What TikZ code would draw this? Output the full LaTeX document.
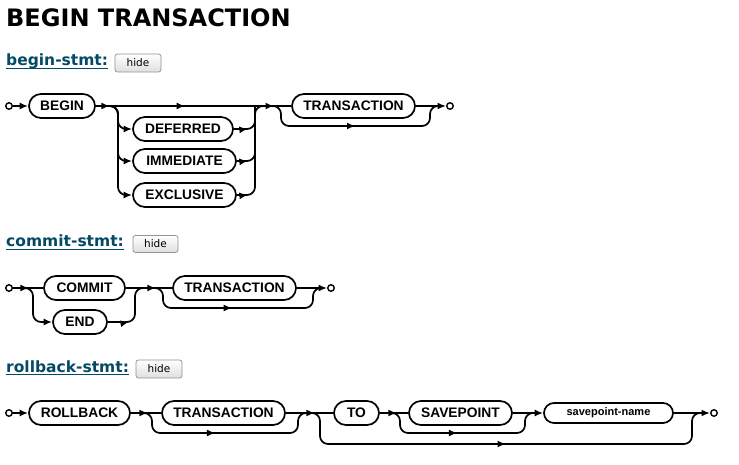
\documentclass[tikz,border=0pt]{standalone}
\usepackage{fontspec}
\newfontfamily\hdfont{DejaVu Sans}
\newfontfamily\bxfont{Liberation Sans}
\usetikzlibrary{arrows.meta,decorations.markings}
\definecolor{linkc}{HTML}{044A64}
\begin{document}
\begin{tikzpicture}[x=1pt,y=-1pt,
 ln/.style={line width=1.7pt, rounded corners=8pt},
 term/.style={draw, line width=1.7pt, rounded corners=12pt, minimum height=24pt, inner sep=0pt, font=\bxfont\bfseries\fontsize{13.8}{15}\selectfont},
 nterm/.style={draw, line width=1.7pt, rounded corners=10pt, minimum height=20pt, inner sep=0pt, font=\bxfont\bfseries\fontsize{11}{12}\selectfont},
 dot/.style={circle, draw, line width=1.4pt, inner sep=0pt, minimum size=6.5pt},
 tip/.style={-{Latex[length=8.5pt,width=7pt]}},
 am/.style={postaction=decorate, decoration={markings, mark=at position #1 with {\arrow{Latex[length=8.5pt,width=7pt]}}}},
 btn/.style={draw=gray!85, line width=0.8pt, rounded corners=2.5pt, top color=white, bottom color=gray!25, inner sep=0pt, font=\hdfont\fontsize{10.5}{12}\selectfont},
 hdr/.style={anchor=base west, inner sep=0pt, text=linkc, font=\hdfont\bfseries\fontsize{15.5}{18}\selectfont},
 ul/.style={draw=linkc, line width=1.3pt}
]
\path[fill=white] (0,0) rectangle (739,465);
\useasboundingbox (0,0) rectangle (739,465);

% title
\node[anchor=base west, inner sep=0pt, font=\hdfont\bfseries\fontsize{24}{28}\selectfont] (title) at (6,27) {BEGIN TRANSACTION};

% headers
\node[hdr] (h1) at (6,66) {begin-stmt:};
\draw[ul] ([yshift=-2.5pt]h1.base west) -- ([yshift=-2.5pt]h1.base east);
\node[btn, minimum width=46pt, minimum height=18pt] (b1) at (138,63) {hide};

\node[hdr] (h2) at (6,247) {commit-stmt:};
\draw[ul] ([yshift=-2.5pt]h2.base west) -- ([yshift=-2.5pt]h2.base east);
\node[btn, minimum width=45pt, minimum height=17pt] (b2) at (155.5,244) {hide};

\node[hdr] (h3) at (6,372) {rollback-stmt:};
\draw[ul] ([yshift=-2.5pt]h3.base west) -- ([yshift=-2.5pt]h3.base east);
\node[btn, minimum width=46pt, minimum height=18pt] (b3) at (159,369) {hide};

% ---------------- diagram 1
\node[dot] (s1) at (9,106) {};
\node[term, minimum width=66pt] (begin) at (62,106) {BEGIN};
\node[term, minimum width=100pt] (deferred) at (183,129) {DEFERRED};
\node[term, minimum width=103pt] (immediate) at (184.5,161) {IMMEDIATE};
\node[term, minimum width=103pt] (exclusive) at (184.5,195) {EXCLUSIVE};
\node[term, minimum width=123pt] (tx1) at (353.5,106) {TRANSACTION};
\node[dot] (e1) at (450,106) {};
\coordinate (j1) at (118,106);
\coordinate (j2) at (255,106);
\coordinate (j3a) at (271,106);
\coordinate (j3) at (281,106);
\coordinate (j4) at (430,106);
\coordinate (j4b) at (440,106);

\draw[ln, tip] (s1) -- (begin);
\draw[ln, am=14pt] (begin) -- (j1);
\draw[ln, am=0.49] (j1) -- (j2);
\draw[ln, tip] (begin) -- (j1) -- (j1 |- deferred) -- (deferred);
\draw[ln, tip] (begin) -- (j1) -- (j1 |- immediate) -- (immediate);
\draw[ln, tip] (begin) -- (j1) -- (j1 |- exclusive) -- (exclusive);
\draw[ln, am=14pt] (deferred) -- (j2 |- deferred) -- (j2) -- (j3);
\draw[ln, am=11pt] (immediate) -- (j2 |- immediate) -- (j2);
\draw[ln, am=11pt] (exclusive) -- (j2 |- exclusive) -- (j2);
\draw[ln, am=19pt] (j2) -- (tx1);
\draw[ln, am=0.5] (j3a) -- (j3) -- (281,126) -- (430,126) -- (j4) -- (j4b);
\draw[ln, tip] (tx1) -- (e1);

% ---------------- diagram 2
\node[dot] (s2) at (9,288) {};
\node[term, minimum width=81pt] (commit) at (84.5,288) {COMMIT};
\node[term, minimum width=54pt] (end) at (80,322) {END};
\node[term, minimum width=123pt] (tx2) at (234.5,288) {TRANSACTION};
\node[dot] (e2) at (331,288) {};
\coordinate (k1) at (33,288);
\coordinate (k2) at (135,288);
\coordinate (k3a) at (153,288);
\coordinate (k3) at (163,288);
\coordinate (k4) at (313,288);
\coordinate (k4b) at (323,288);

\draw[ln, am=16pt] (s2) -- (commit);
\draw[ln, tip] (s2) -- (k1) -- (k1 |- end) -- (end);
\draw[ln, am=30pt] (commit) -- (tx2);
\draw[ln, am=21pt] (end) -- (k2 |- end) -- (k2) -- (k3);
\draw[ln, am=0.47] (k3a) -- (k3) -- (163,308) -- (313,308) -- (k4) -- (k4b);
\draw[ln, tip] (tx2) -- (e2);

% ---------------- diagram 3
\node[dot] (s3) at (9,413) {};
\node[term, minimum width=101pt] (rollback) at (79.5,413) {ROLLBACK};
\node[term, minimum width=123pt] (tx3) at (223.5,413) {TRANSACTION};
\node[term, minimum width=45pt] (to) at (356.5,413) {TO};
\node[term, minimum width=103pt] (savepoint) at (460.5,413) {SAVEPOINT};
\node[nterm, minimum width=129pt] (spname) at (608.5,413) {savepoint-name};
\node[dot] (e3) at (714,413) {};
\coordinate (m1a) at (142,413);
\coordinate (m1) at (152,413);
\coordinate (m2) at (298,413);
\coordinate (m2b) at (308,413);
\coordinate (m3a) at (310,413);
\coordinate (m3) at (320,413);
\coordinate (m4a) at (390,413);
\coordinate (m4) at (400,413);
\coordinate (m5) at (525,413);
\coordinate (m5b) at (535,413);
\coordinate (m6) at (692,413);
\coordinate (m6b) at (702,413);

\draw[ln, tip] (s3) -- (rollback);
\draw[ln, am=17pt] (rollback) -- (tx3);
\draw[ln, am=0.45] (m1a) -- (m1) -- (152,433) -- (298,433) -- (m2) -- (m2b);
\draw[ln, am=29pt] (tx3) -- (to);
\draw[ln, am=17pt] (to) -- (savepoint);
\draw[ln, am=0.47] (m4a) -- (m4) -- (400,433) -- (525,433) -- (m5) -- (m5b);
\draw[ln, tip] (savepoint) -- (spname);
\draw[ln, am=0.5] (m3a) -- (m3) -- (320,444) -- (692,444) -- (m6) -- (m6b);
\draw[ln, tip] (spname) -- (e3);
\end{tikzpicture}
\end{document}
